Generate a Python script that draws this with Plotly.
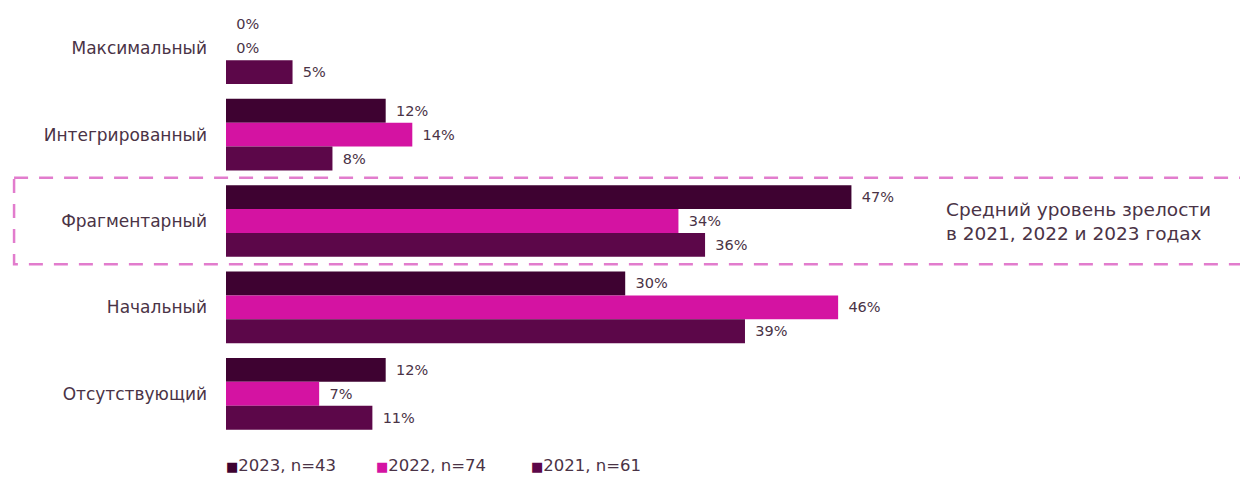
import plotly.graph_objects as go

categories = ["Максимальный", "Интегрированный", "Фрагментарный", "Начальный", "Отсутствующий"]
series_names = ["2023, n=43", "2022, n=74", "2021, n=61"]
values_2023 = [0, 12, 47, 30, 12]
values_2022 = [0, 14, 34, 46, 7]
values_2021 = [5, 8, 36, 39, 11]
colors = ["#3e0231", "#d413a2", "#5c0749"]
note_text = "Средний уровень зрелости<br>в 2021, 2022 и 2023 годах"

FONT = "DejaVu Sans"
TEXT_COLOR = "#4a3346"

fig = go.Figure()
for name, vals, col in zip(series_names, [values_2023, values_2022, values_2021], colors):
    fig.add_trace(go.Bar(
        y=categories, x=vals, name=name, orientation="h",
        marker=dict(color=col, line=dict(width=0)),
        text=[f"\u2002{v}%" for v in vals],
        textposition="outside",
        constraintext="none",
        textfont=dict(family=FONT, size=14.5, color=TEXT_COLOR),
        cliponaxis=False,
        showlegend=False,
    ))

# legend drawn as colored-square annotations
legend_x = [-0.002, 0.146, 0.299]
for name, col, lx in zip(series_names, colors, legend_x):
    fig.add_annotation(
        xref="paper", yref="paper", x=lx, y=-0.067, xanchor="left", yanchor="middle",
        text=f"<span style='color:{col};font-size:13px'>■</span>{name}",
        showarrow=False, font=dict(family=FONT, size=16.5, color=TEXT_COLOR),
    )

fig.add_annotation(
    xref="paper", yref="y", x=0.708, y=2, xanchor="left", yanchor="middle",
    text=note_text, align="left", showarrow=False,
    font=dict(family=FONT, size=18.5, color=TEXT_COLOR),
)

fig.add_shape(
    type="rect", xref="paper", yref="y", x0=-0.209, x1=1.02, y0=1.5, y1=2.5,
    line=dict(color="#e27ccd", width=2.5, dash="14px,11px"), layer="above",
)

fig.update_layout(
    width=1240, height=480,
    margin=dict(l=226, r=0, t=5, b=43),
    paper_bgcolor="white", plot_bgcolor="white",
    barmode="group", bargap=0.17, bargroupgap=0,
    font=dict(family=FONT, size=15, color=TEXT_COLOR),
    xaxis=dict(range=[0, 76.2], visible=False, showgrid=False, zeroline=False),
    yaxis=dict(autorange="reversed", showgrid=False, zeroline=False, showline=False,
               ticks="", ticklabelstandoff=18,
               tickfont=dict(family=FONT, size=17, color=TEXT_COLOR)),
)

fig.write_html("out.html")
